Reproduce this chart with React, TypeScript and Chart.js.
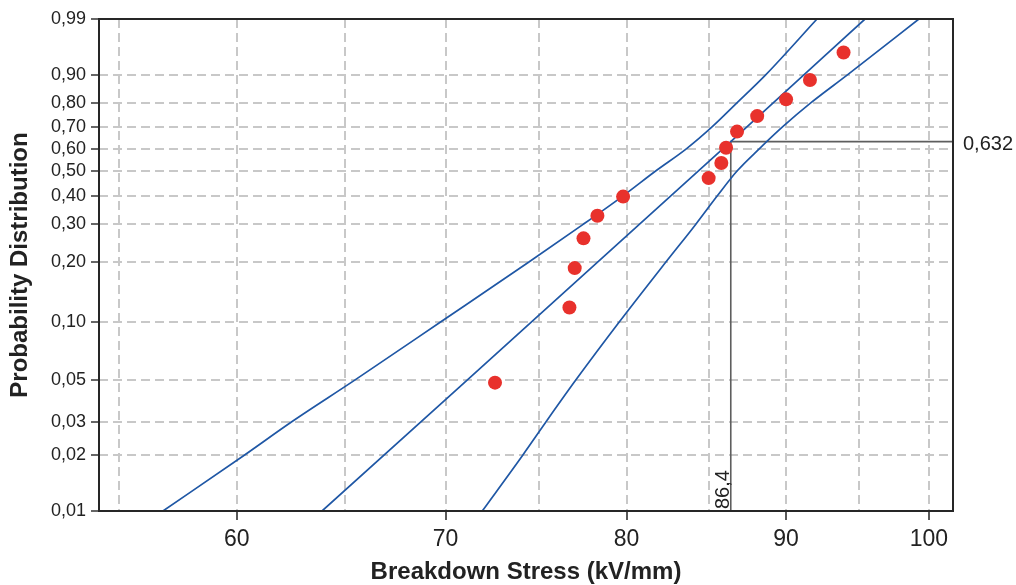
import React, { useEffect, useRef } from 'react';
import { Chart, registerables } from 'chart.js';

Chart.register(...registerables);

// ---- Data (Weibull probability plot) ----
const breakdownStress = [72.6, 76.7, 77.0, 77.5, 78.3, 79.8, 85.0, 85.8, 86.1, 86.8, 88.1, 90.0, 91.6, 93.9];
const probability = [0.0485, 0.119, 0.187, 0.259, 0.328, 0.396, 0.47, 0.535, 0.604, 0.678, 0.747, 0.816, 0.884, 0.952];

const fitStress = [63.9, 86.4, 95.4];
const fitProb = [0.01, 0.632, 0.99];

const boundProb = [0.01, 0.02, 0.03, 0.05, 0.1, 0.2, 0.3, 0.4, 0.5, 0.6, 0.7, 0.8, 0.9, 0.99];
const upperStress = [56.82, 60.35, 62.47, 65.46, 69.72, 74.44, 77.48, 79.82, 81.74, 83.63, 85.23, 86.76, 88.67, 92.08];
const lowerStress = [71.92, 74.11, 75.38, 77.06, 79.56, 82.36, 84.19, 85.56, 86.8, 88.25, 89.78, 91.61, 94.19, 99.27];

const etaValue = 86.4;
const etaProb = 0.632;
const etaLabel = '86,4';
const etaProbLabel = '0,632';

const xGridValues = [55, 60, 65, 70, 75, 80, 85, 90, 95, 100];
const xLabelValues = [60, 70, 80, 90, 100];
const xMin = 54.2;
const xMax = 101.8;

const yTickProbs = [0.01, 0.02, 0.03, 0.05, 0.1, 0.2, 0.3, 0.4, 0.5, 0.6, 0.7, 0.8, 0.9, 0.99];
const yTickLabels = ['0,01', '0,02', '0,03', '0,05', '0,10', '0,20', '0,30', '0,40', '0,50', '0,60', '0,70', '0,80', '0,90', '0,99'];

const xTitle = 'Breakdown Stress (kV/mm)';
const yTitle = 'Probability Distribution';

// Weibull probability transform for the vertical scale
const wb = (p: number) => Math.log(-Math.log(1 - p));

const FONT = "'Liberation Sans', Arial, sans-serif";
const BLUE = '#1f57a5';
const RED = '#e8312c';
const GRID = '#c8c8c8';
const INK = '#222222';

const framePlugin = {
  id: 'frameAndLabels',
  afterDraw(chart: any) {
    const { ctx, chartArea: a, scales } = chart;
    const xs = scales.x;
    const ys = scales.y;
    ctx.save();
    ctx.setLineDash([]);
    ctx.strokeStyle = '#262626';
    ctx.lineWidth = 2;
    ctx.strokeRect(a.left, a.top, a.right - a.left, a.bottom - a.top);

    ctx.fillStyle = INK;
    ctx.font = `20px ${FONT}`;
    ctx.textAlign = 'left';
    ctx.textBaseline = 'middle';
    ctx.fillText(etaProbLabel, a.right + 10, ys.getPixelForValue(wb(etaProb)) + 3);

    ctx.translate(xs.getPixelForValue(etaValue) - 2, a.bottom - 2);
    ctx.rotate(-Math.PI / 2);
    ctx.textBaseline = 'alphabetic';
    ctx.fillText(etaLabel, 0, 0);
    ctx.restore();
  },
};

export default function App() {
  const canvasRef = useRef<HTMLCanvasElement | null>(null);

  useEffect(() => {
    if (!canvasRef.current) return;
    const curve = {
      showLine: true,
      borderColor: BLUE,
      borderWidth: 1.7,
      pointRadius: 0,
      cubicInterpolationMode: 'monotone',
      order: 1,
    };
    const chart = new Chart(canvasRef.current, {
      type: 'scatter',
      data: {
        datasets: [
          {
            label: 'data',
            data: breakdownStress.map((x, i) => ({ x, y: wb(probability[i]) })),
            backgroundColor: RED,
            borderColor: RED,
            borderWidth: 0,
            pointRadius: 7,
            order: 0,
          },
          {
            label: 'fit',
            data: fitStress.map((x, i) => ({ x, y: wb(fitProb[i]) })),
            ...curve,
          },
          {
            label: 'upper',
            data: upperStress.map((x, i) => ({ x, y: wb(boundProb[i]) })),
            ...curve,
          },
          {
            label: 'lower',
            data: lowerStress.map((x, i) => ({ x, y: wb(boundProb[i]) })),
            ...curve,
          },
          {
            label: 'eta',
            data: [
              { x: etaValue, y: wb(0.01) },
              { x: etaValue, y: wb(etaProb) },
              { x: xMax, y: wb(etaProb) },
            ],
            showLine: true,
            borderColor: '#5e5e5e',
            borderWidth: 1.6,
            pointRadius: 0,
            order: 2,
          },
        ] as any,
      },
      options: {
        animation: false,
        responsive: false,
        layout: { padding: { left: 0, top: 19, right: 63, bottom: 0 } },
        plugins: { legend: { display: false }, tooltip: { enabled: false } },
        scales: {
          x: {
            type: 'logarithmic',
            position: 'bottom',
            min: xMin,
            max: xMax,
            afterBuildTicks: (s: any) => {
              s.ticks = xGridValues.map((v) => ({ value: v }));
            },
            afterFit: (s: any) => {
              s.height = 74;
            },
            ticks: {
              autoSkip: false,
              maxRotation: 0,
              minRotation: 0,
              padding: 6,
              color: INK,
              font: { family: FONT, size: 23 },
              callback: (v: any) => (xLabelValues.includes(Number(v)) ? String(v) : ''),
            },
            grid: {
              color: GRID,
              lineWidth: 2,
              tickLength: 9,
              tickWidth: 1.5,
              tickBorderDash: [],
              tickColor: (c: any) => (c.tick && xLabelValues.includes(c.tick.value) ? INK : 'rgba(0,0,0,0)'),
            },
            border: { display: false, dash: [9, 5] },
            title: {
              display: true,
              text: xTitle,
              color: INK,
              font: { family: FONT, size: 24, weight: 'bold', lineHeight: 1 },
              padding: { top: 0, bottom: 1 },
            },
          },
          y: {
            type: 'linear',
            min: wb(0.01),
            max: wb(0.99),
            afterBuildTicks: (s: any) => {
              s.ticks = yTickProbs.map((p) => ({ value: wb(p) }));
            },
            afterFit: (s: any) => {
              s.width = 99;
            },
            ticks: {
              autoSkip: false,
              padding: 5,
              color: INK,
              font: { family: FONT, size: 18 },
              callback: (_v: any, i: number) => yTickLabels[i],
            },
            grid: {
              color: GRID,
              lineWidth: 2,
              tickLength: 8,
              tickWidth: 1.5,
              tickBorderDash: [],
              tickColor: '#333333',
            },
            border: { display: false, dash: [9, 5] },
            title: {
              display: true,
              text: yTitle,
              color: INK,
              font: { family: FONT, size: 24, weight: 'bold', lineHeight: 1 },
              padding: { top: 8, bottom: 0 },
            },
          },
        },
      } as any,
      plugins: [framePlugin],
    });
    return () => chart.destroy();
  }, []);

  return (
    <div style={{ position: 'absolute', left: 0, top: 0, width: 1016, height: 585, background: '#fff' }}>
      <canvas ref={canvasRef} width={1016} height={585} />
    </div>
  );
}
